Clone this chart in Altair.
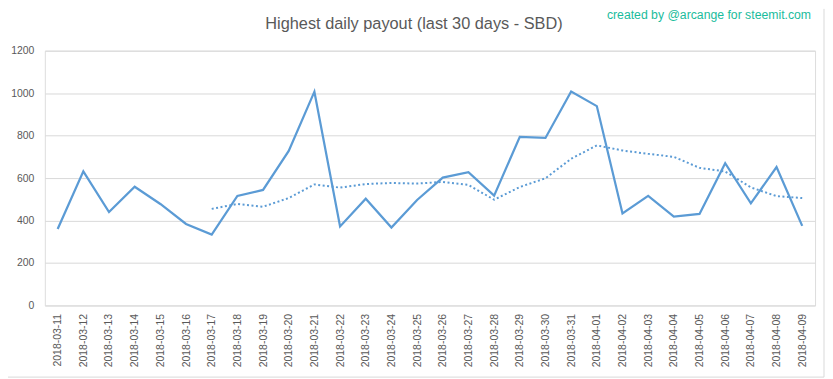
import altair as alt
import pandas as pd

dates = ["2018-03-11", "2018-03-12", "2018-03-13", "2018-03-14", "2018-03-15",
         "2018-03-16", "2018-03-17", "2018-03-18", "2018-03-19", "2018-03-20",
         "2018-03-21", "2018-03-22", "2018-03-23", "2018-03-24", "2018-03-25",
         "2018-03-26", "2018-03-27", "2018-03-28", "2018-03-29", "2018-03-30",
         "2018-03-31", "2018-04-01", "2018-04-02", "2018-04-03", "2018-04-04",
         "2018-04-05", "2018-04-06", "2018-04-07", "2018-04-08", "2018-04-09"]

payout = [360, 632, 440, 559, 478, 384, 334, 516, 544, 728,
          1007, 372, 503, 367, 497, 602, 628, 517, 794, 789,
          1008, 939, 433, 516, 419, 431, 670, 481, 652, 375]

# 7-day moving average (dotted trendline), starts at 2018-03-17
moving_avg = [None, None, None, None, None, None, 455, 478, 465, 506,
              570, 555, 572, 577, 574, 582, 568, 498, 558, 599,
              691, 754, 730, 714, 700, 648, 631, 556, 515, 506]

title_text = "Highest daily payout (last 30 days - SBD)"
credit_text = "created by @arcange for steemit.com"

df = pd.DataFrame({"date": dates, "payout": payout, "ma": moving_avg})

BLUE = "#5b9bd5"
TEXT = "#595959"
GRID = "#d9d9d9"
FONT = "Liberation Sans"

x_enc = alt.X("date:O", sort=dates, scale=alt.Scale(padding=0.5),
              axis=alt.Axis(title=None, labelAngle=-90, labelFontSize=10.5,
                            labelColor=TEXT, labelFont=FONT, ticks=False,
                            domain=False, labelPadding=8, grid=False))
y_enc = alt.Y("payout:Q", scale=alt.Scale(domain=[0, 1200], nice=False),
              axis=alt.Axis(title=None, values=[0, 200, 400, 600, 800, 1000, 1200],
                            format="d",
                            labelFontSize=10.5, labelColor=TEXT, labelFont=FONT,
                            ticks=False, domain=False, labelPadding=11,
                            grid=True, gridColor=GRID, gridWidth=1))

solid = alt.Chart(df).mark_line(color=BLUE, strokeWidth=2.25).encode(x=x_enc, y=y_enc)

dotted = alt.Chart(df).transform_filter("datum.ma != null").mark_line(
    color=BLUE, strokeWidth=2, strokeDash=[2, 2.5]
).encode(x=alt.X("date:O", sort=dates), y=alt.Y("ma:Q"))

text_df = pd.DataFrame({"t": [credit_text], "title": [title_text]})
note = alt.Chart(text_df).mark_text(
    align="right", baseline="alphabetic", color="#1abc9c", fontSize=12.3, font=FONT
).encode(x=alt.value(770), y=alt.value(-32), text="t:N")

title = alt.Chart(text_df).mark_text(
    align="center", baseline="alphabetic", color=TEXT, fontSize=16.4, font=FONT
).encode(x=alt.value(371), y=alt.value(-22), text="title:N")

border_r = alt.Chart(text_df).mark_rule(color=GRID, strokeWidth=1).encode(
    x=alt.value(783), y=alt.value(-42), y2=alt.value(328))
border_b = alt.Chart(text_df).mark_rule(color=GRID, strokeWidth=1).encode(
    x=alt.value(-37), x2=alt.value(783), y=alt.value(328))

chart = alt.layer(solid, dotted, note, title, border_r, border_b).properties(
    width=774, height=256,
    autosize=alt.AutoSizeParams(type="none"),
    padding={"left": 37, "top": 42, "right": 10, "bottom": 73},
).configure_view(stroke="transparent", strokeWidth=0).configure(background="white")

chart.save("out.html", embed_options={"renderer": "svg", "actions": False})
